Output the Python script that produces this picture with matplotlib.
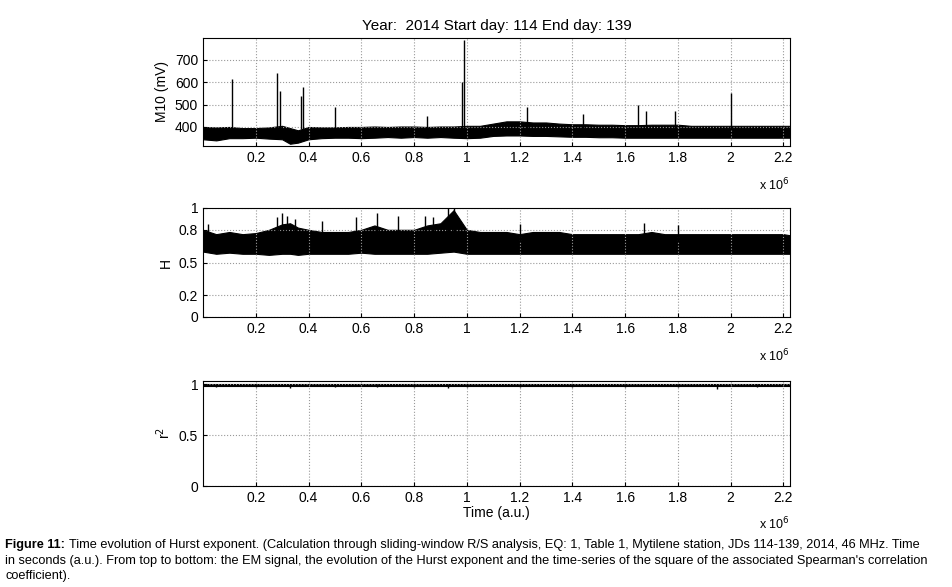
import matplotlib
matplotlib.use("Agg")
import matplotlib.pyplot as plt
import numpy as np

plt.rcParams['font.family'] = 'Liberation Sans'

# envelope sample positions (x 1e6)
xs = [0.0,0.05,0.1,0.15,0.2,0.25,0.3,0.33,0.36,0.4,0.45,0.5,0.55,0.6,0.65,0.7,0.75,0.8,0.85,0.9,0.95,1.0,1.05,1.1,1.15,1.2,1.25,1.3,1.35,1.4,1.45,1.5,1.55,1.6,1.65,1.7,1.75,1.8,1.85,1.9,1.95,2.0,2.05,2.1,2.15,2.2,2.225]
m10_lo = [345,340,350,350,352,348,345,325,330,345,350,352,352,350,352,355,352,355,352,355,352,350,352,360,362,362,360,360,358,356,356,354,354,352,352,352,352,352,352,352,352,352,352,352,352,352,352]
m10_hi = [400,398,400,395,395,398,405,395,385,400,398,398,400,400,402,400,402,402,400,402,402,405,405,415,425,425,420,420,415,412,412,410,410,408,408,410,410,410,405,405,405,405,405,405,405,405,405]
spk_x = [0.11,0.28,0.29,0.37,0.38,0.5,0.85,0.98,0.99,1.23,1.44,1.65,1.68,1.79,2.0]
spk_y = [615,640,560,540,580,490,450,600,790,490,460,500,470,470,550]

h_lo = [0.60,0.58,0.59,0.58,0.58,0.57,0.58,0.58,0.57,0.58,0.58,0.58,0.58,0.59,0.58,0.58,0.58,0.58,0.58,0.59,0.60,0.58,0.58,0.58,0.58,0.58,0.58,0.58,0.58,0.58,0.58,0.58,0.58,0.58,0.58,0.58,0.58,0.58,0.58,0.58,0.58,0.58,0.58,0.58,0.58,0.58,0.58]
h_hi = [0.80,0.76,0.78,0.76,0.77,0.80,0.85,0.86,0.82,0.80,0.78,0.78,0.78,0.80,0.84,0.80,0.80,0.80,0.84,0.86,0.98,0.80,0.78,0.78,0.78,0.76,0.78,0.78,0.78,0.76,0.76,0.76,0.76,0.76,0.76,0.78,0.76,0.76,0.76,0.76,0.76,0.76,0.76,0.76,0.76,0.76,0.75]
hs_x = [0.02,0.28,0.3,0.32,0.35,0.45,0.58,0.66,0.74,0.84,0.87,0.93,0.95,1.2,1.67,1.8]
hs_y = [0.85,0.92,0.95,0.93,0.90,0.88,0.92,0.95,0.93,0.93,0.92,1.0,1.0,0.85,0.86,0.84]
r2_lo = 0.985
r2_tick_x = [0.05,0.2,0.33,0.5,0.66,0.8,0.93,1.0,1.2,1.4,1.6,1.8,1.95,2.1]
r2_tick_y = [0.97,0.97,0.96,0.97,0.97,0.97,0.96,0.97,0.97,0.97,0.97,0.97,0.95,0.97]

xticks = [0.2,0.4,0.6,0.8,1.0,1.2,1.4,1.6,1.8,2.0,2.2]
xlabels = ['0.2','0.4','0.6','0.8','1','1.2','1.4','1.6','1.8','2','2.2']

fig = plt.figure(figsize=(9.52,5.87), dpi=100)
W,H = 952,587
def ax_at(l,t,r,b):
    return fig.add_axes([l/W,1-b/H,(r-l)/W,(b-t)/H])
a1 = ax_at(203,38,790,146)
a2 = ax_at(203,208,790,317)
a3 = ax_at(203,381,790,486)
s = 1e6
X = np.array(xs)*s
a1.fill_between(X,m10_lo,m10_hi,color='k',lw=0.8)
a1.vlines(np.array(spk_x)*s,390,spk_y,color='k',lw=1)
a1.set_ylim(315,797); a1.set_yticks([400,500,600,700])
a1.set_ylabel('M10 (mV)')
a1.set_title('Year:  2014 Start day: 114 End day: 139', fontsize=11, pad=6)
a2.fill_between(X,h_lo,h_hi,color='k',lw=0.8)
a2.vlines(np.array(hs_x)*s,0.7,hs_y,color='k',lw=1)
a2.set_ylim(0,1); a2.set_yticks([0,0.2,0.5,0.8,1]); a2.set_yticklabels(['0','0.2','0.5','0.8','1'])
a2.set_ylabel('H')
a3.fill_between([0,X[-1]],r2_lo,1.0,color='k',lw=0.8)
a3.vlines(np.array(r2_tick_x)*s,r2_tick_y,1.0,color='k',lw=1)
a3.set_ylim(0,1.03); a3.set_yticks([0,0.5,1]); a3.set_yticklabels(['0','0.5','1'])
a3.set_ylabel('r$^2$')
a3.set_xlabel('Time (a.u.)', labelpad=1)
for a in (a1,a2,a3):
    a.set_xlim(0,2.225e6)
    a.set_xticks(np.array(xticks)*s); a.set_xticklabels(xlabels)
    a.grid(True, ls=':', color='#999999', lw=0.8)
    a.tick_params(labelsize=10, direction='in', length=3)
    a.text(1.0,-0.28,r'x 10$^6$',transform=a.transAxes,ha='right',va='top',fontsize=9)
fs = 9.2
fig.text(5/W,1-545/H,'Figure 11:',fontweight='bold',fontsize=fs,va='center')
fig.text(69/W,1-545/H,"Time evolution of Hurst exponent. (Calculation through sliding-window R/S analysis, EQ: 1, Table 1, Mytilene station, JDs 114-139, 2014, 46 MHz. Time",fontsize=fs,va='center')
fig.text(5/W,1-561/H,"in seconds (a.u.). From top to bottom: the EM signal, the evolution of the Hurst exponent and the time-series of the square of the associated Spearman's correlation",fontsize=fs,va='center')
fig.text(5/W,1-576/H,"coefficient).",fontsize=fs,va='center')
fig.savefig('out.png',dpi=100)
